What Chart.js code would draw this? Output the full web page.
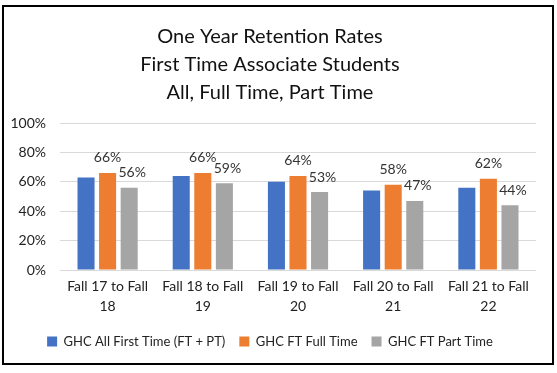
<!DOCTYPE html>
<html>
<head>
<meta charset="utf-8">
<script src="https://cdn.jsdelivr.net/npm/chart.js@4/dist/chart.umd.min.js"></script>
<style>
  body { margin: 0; background: #fff; width: 557px; height: 373px; overflow: hidden; position: relative; }
  #box { position: absolute; left: 2px; top: 5px; width: 552px; height: 360px; border: 2px solid #000; box-sizing: border-box; background: #fff; }
  #box canvas { display: block; }
</style>
</head>
<body>
<div id="box"><canvas id="chart" width="548" height="356"></canvas></div>
<script>
const categories = [
    ['Fall 17 to Fall', '18'],
    ['Fall 18 to Fall', '19'],
    ['Fall 19 to Fall', '20'],
    ['Fall 20 to Fall', '21'],
    ['Fall 21 to Fall', '22']
];
const allFirstTime = [63, 64, 60, 54, 56];
const fullTime = [66, 66, 64, 58, 62];
const partTime = [56, 59, 53, 47, 44];
const seriesNames = ['GHC All First Time (FT + PT)', 'GHC FT Full Time', 'GHC FT Part Time'];
const titleLines = ['One Year Retention Rates', 'First Time Associate Students', 'All, Full Time, Part Time'];

const FONT = 'Lato, "Open Sans", sans-serif';

// labels above the orange and gray bars only
const barLabels = {
    id: 'barLabels',
    afterDatasetsDraw(chart) {
        const ctx = chart.ctx;
        ctx.save();
        ctx.font = '14px ' + FONT;
        ctx.fillStyle = '#333';
        ctx.textAlign = 'center';
        ctx.textBaseline = 'middle';
        [1, 2].forEach(i => {
            const meta = chart.getDatasetMeta(i);
            meta.data.forEach((bar, j) => {
                ctx.fillText(chart.data.datasets[i].data[j] + '%', bar.x + (i === 2 ? 3 : 0), bar.y - 15);
            });
        });
        ctx.restore();
    }
};

const ctx = document.getElementById('chart').getContext('2d');
new Chart(ctx, {
    type: 'bar',
    data: {
        labels: categories,
        datasets: [
            { label: seriesNames[0], data: allFirstTime, backgroundColor: '#4472C4' },
            { label: seriesNames[1], data: fullTime, backgroundColor: '#ED7D31' },
            { label: seriesNames[2], data: partTime, backgroundColor: '#A5A5A5' }
        ]
    },
    options: {
        responsive: false,
        animation: false,
        datasets: { bar: { categoryPercentage: 0.68, barPercentage: 0.79 } },
        layout: { padding: { left: 0, right: 16, top: 12, bottom: 5 } },
        plugins: {
            title: {
                display: true,
                text: titleLines,
                color: '#111',
                font: { family: FONT, size: 20, weight: 'normal', lineHeight: 1.4 },
                padding: { top: 4, bottom: 16 }
            },
            legend: {
                position: 'bottom',
                labels: {
                    color: '#222',
                    font: { family: FONT, size: 13 },
                    boxWidth: 10,
                    boxHeight: 10,
                    padding: 14
                }
            },
            tooltip: { enabled: false }
        },
        scales: {
            x: {
                afterFit: axis => { axis.height = 51; },
                grid: { display: false, drawTicks: false },
                border: { display: false },
                ticks: { color: '#222', font: { family: FONT, size: 14, lineHeight: 1.4 }, maxRotation: 0, padding: 7 }
            },
            y: {
                min: 0,
                max: 100,
                afterFit: axis => { axis.width = 56; },
                ticks: { stepSize: 20, color: '#222', font: { family: FONT, size: 14 }, padding: 14, callback: v => v + '%' },
                grid: { color: '#D9D9D9', drawTicks: false },
                border: { display: false }
            }
        }
    },
    plugins: [barLabels]
});
</script>
</body>
</html>
